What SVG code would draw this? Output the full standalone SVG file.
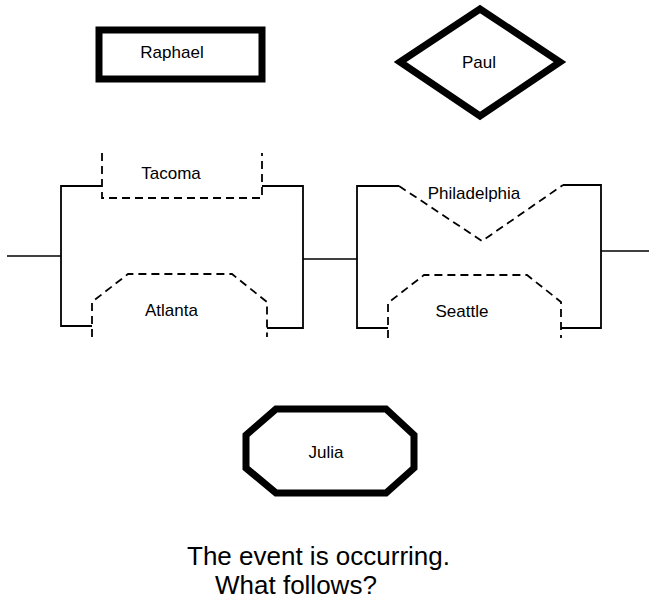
<svg xmlns="http://www.w3.org/2000/svg" width="650" height="603" viewBox="0 0 650 603">
  <style>
    .label { font-family: "Liberation Sans", Arial, sans-serif; font-size: 17px; fill: #000; text-anchor: middle; }
    .caption { font-family: "Liberation Sans", Arial, sans-serif; font-size: 26px; fill: #000; }
    .thick { fill: #fff; stroke: #000; stroke-width: 7; stroke-linejoin: miter; }
    .solid { fill: none; stroke: #000; stroke-width: 1.8; }
    .dash { fill: none; stroke: #000; stroke-width: 1.8; stroke-dasharray: 8 5; }
    .wire { fill: none; stroke: #000; stroke-width: 1.6; }
  </style>
  <rect width="650" height="603" fill="#fff"/>

  <!-- connecting wires -->
  <g id="connectors">
    <line class="wire" x1="7" y1="256" x2="61" y2="256"/>
    <line class="wire" x1="303" y1="259" x2="357" y2="259"/>
    <line class="wire" x1="601" y1="251" x2="649" y2="251"/>
  </g>

  <g id="node-raphael">
    <rect class="thick" x="99" y="30" width="163" height="49"/>
    <text class="label" x="172" y="58">Raphael</text>
  </g>

  <g id="node-paul">
    <polygon class="thick" stroke-width="8" points="400,62 480,9 560,62 480,116"/>
    <text class="label" x="479" y="68">Paul</text>
  </g>

  <g id="node-left-block">
    <path class="solid" d="M102,186 H61 V326 H92"/>
    <path class="solid" d="M262,186 H303 V328 H267"/>
    <path class="dash" d="M102,153 V198 H262 V153"/>
    <path class="dash" d="M92,337 V302 L128,274 H232 L267,302 V337"/>
    <text class="label" x="171" y="179">Tacoma</text>
    <text class="label" x="171.5" y="316">Atlanta</text>
  </g>

  <g id="node-right-block">
    <path class="solid" d="M399,186 H357 V328 H388"/>
    <path class="solid" d="M563,185 H601 V328 H561"/>
    <path class="dash" d="M399,186 L482,241 L563,185"/>
    <path class="dash" d="M388,338 V303 L424,275 H527 L561,302 V338"/>
    <text class="label" x="474" y="199">Philadelphia</text>
    <text class="label" x="462" y="317">Seattle</text>
  </g>

  <g id="node-julia">
    <polygon class="thick" stroke-width="8" points="276,409 386,409 414,435 414,468 386,493 276,493 246,468 246,435"/>
    <text class="label" x="326" y="458">Julia</text>
  </g>

  <g id="caption">
    <text class="caption" x="187" y="565">The event is occurring.</text>
    <text class="caption" x="215" y="594">What follows?</text>
  </g>
</svg>
